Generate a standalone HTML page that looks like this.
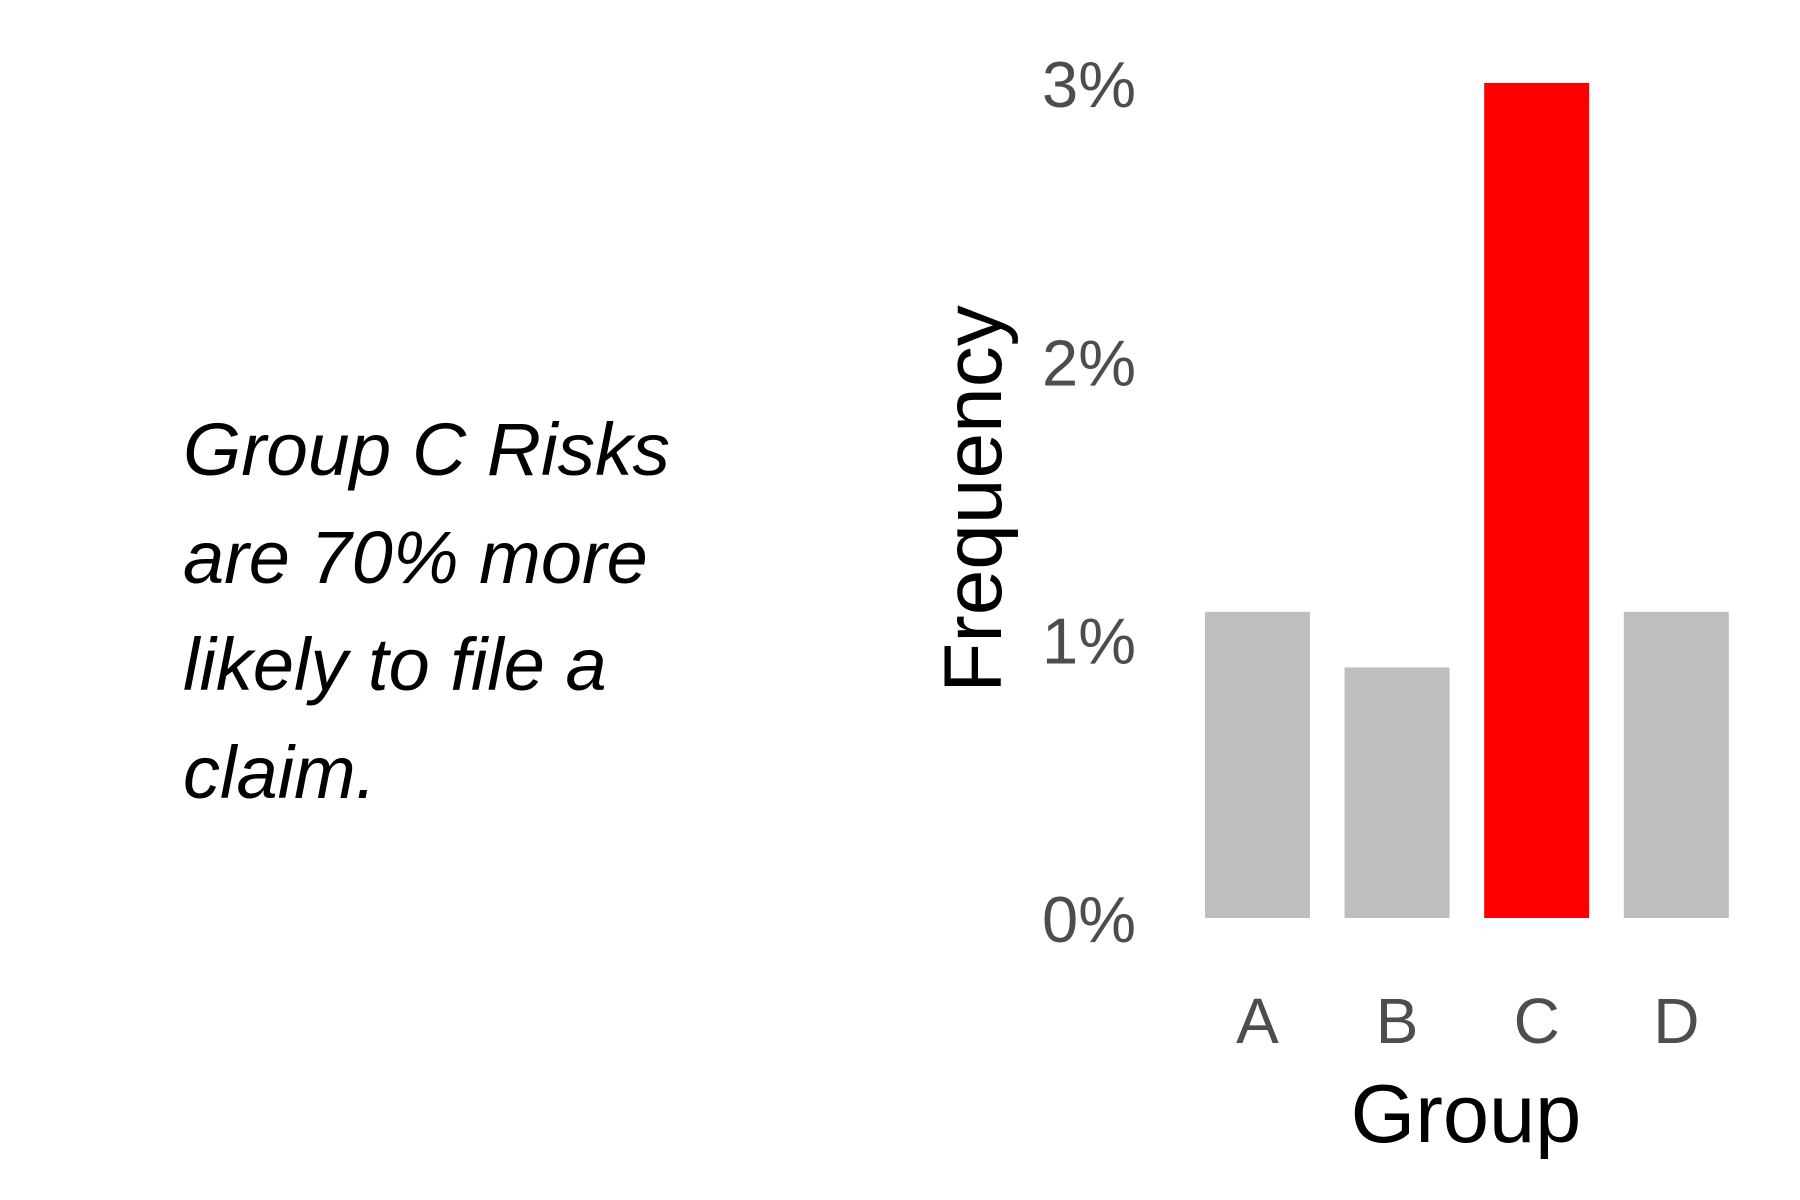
<!DOCTYPE html>
<html><head><meta charset="utf-8"><style>body{margin:0;background:#fff}svg{display:block}</style></head>
<body>
<svg id="chart" width="1800" height="1200" xmlns="http://www.w3.org/2000/svg" font-family="Liberation Sans, sans-serif">
<rect width="1800" height="1200" fill="#fff"/>
<g font-style="italic" font-size="74" fill="#000">
<text x="183" y="475" textLength="487" lengthAdjust="spacingAndGlyphs">Group C Risks</text>
<text x="183" y="583">are 70% more</text>
<text x="183" y="690">likely to file a</text>
<text x="183" y="798">claim.</text>
</g>
<text transform="translate(1001,499) rotate(-90)" text-anchor="middle" font-size="82" fill="#000">Frequency</text>
<text x="1466" y="1142" text-anchor="middle" font-size="83" fill="#000">Group</text>
<g id="yticks"></g><g id="bars"></g><g id="xticks"></g>
<script>
const categories=['A','B','C','D'];
const values=[1.1,0.9,3.0,1.1];
const colors=['#bebebe','#bebebe','#ff0000','#bebebe'];
const yTicks=[0,1,2,3];
const yTickLabels=['0%','1%','2%','3%'];
const NS='http://www.w3.org/2000/svg';
function y(v){return 918-(918-83)*v/3;}
function x(i){return 1205+i*139.6;}
const bw=105;
const yt=document.getElementById('yticks');
yTicks.forEach((t,i)=>{const e=document.createElementNS(NS,'text');


e.setAttribute('x',1136);e.setAttribute('y',y(t)+24);e.setAttribute('text-anchor','end');e.setAttribute('font-size','65');e.setAttribute('fill','#4d4d4d');e.textContent=yTickLabels[i];yt.appendChild(e);});
const bg=document.getElementById('bars'),xg=document.getElementById('xticks');
categories.forEach((c,i)=>{const r=document.createElementNS(NS,'rect');


r.setAttribute('x',x(i));r.setAttribute('y',y(values[i]));r.setAttribute('width',bw);r.setAttribute('height',y(0)-y(values[i]));r.setAttribute('fill',colors[i]);bg.appendChild(r);
const t=document.createElementNS(NS,'text');


t.setAttribute('x',x(i)+bw/2);t.setAttribute('y',1043);t.setAttribute('text-anchor','middle');t.setAttribute('font-size','64');t.setAttribute('fill','#4d4d4d');t.textContent=c;xg.appendChild(t);});
</script>
</svg>
</body></html>
